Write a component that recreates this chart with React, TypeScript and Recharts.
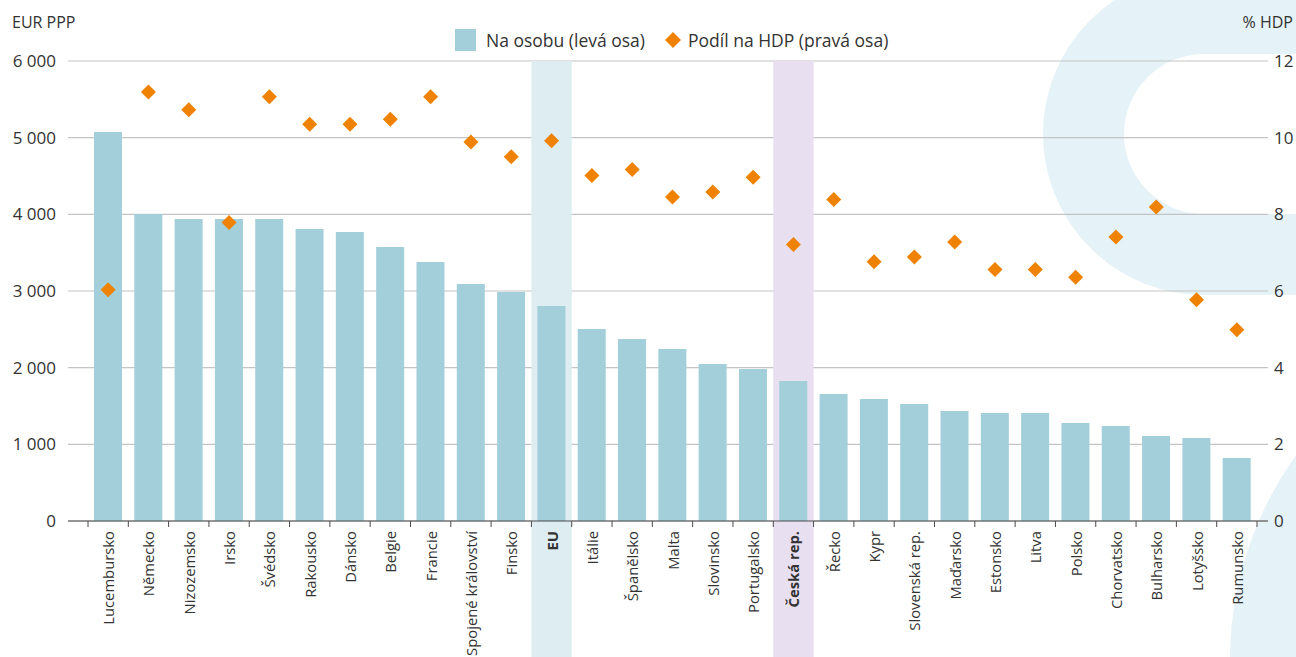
import React from 'react';
import {
  ComposedChart,
  Bar,
  Scatter,
  XAxis,
  YAxis,
  CartesianGrid,
  ReferenceArea,
  Legend,
} from 'recharts';

const categories = [
  'Lucembursko', 'Německo', 'Nizozemsko', 'Irsko', 'Švédsko', 'Rakousko', 'Dánsko', 'Belgie',
  'Francie', 'Spojené království', 'Finsko', 'EU', 'Itálie', 'Španělsko', 'Malta', 'Slovinsko',
  'Portugalsko', 'Česká rep.', 'Řecko', 'Kypr', 'Slovenská rep.', 'Maďarsko', 'Estonsko', 'Litva',
  'Polsko', 'Chorvatsko', 'Bulharsko', 'Lotyšsko', 'Rumunsko',
];

const perCapita = [
  5074, 4004, 3939, 3939, 3939, 3809, 3770, 3574, 3378, 3091, 2987, 2804, 2504, 2374, 2243, 2048,
  1983, 1826, 1656, 1591, 1526, 1435, 1409, 1409, 1278, 1239, 1109, 1083, 822,
];

const gdpShare = [
  6.03, 11.19, 10.73, 7.79, 11.07, 10.35, 10.35, 10.48, 11.07, 9.89, 9.5, 9.92, 9.01, 9.17, 8.45, 8.58,
  8.97, 7.21, 8.39, 6.76, 6.89, 7.28, 6.56, 6.56, 6.36, 7.41, 8.19, 5.77, 4.99,
];

const leftTicks = [0, 1000, 2000, 3000, 4000, 5000, 6000];
const rightTicks = [0, 2, 4, 6, 8, 10, 12];
const boldCategories = ['EU', 'Česká rep.'];

const seriesNames = ['Na osobu (levá osa)', 'Podíl na HDP (pravá osa)'];
const leftUnit = 'EUR PPP';
const rightUnit = '% HDP';

const data = categories.map((name, i) => ({ name, perCapita: perCapita[i], gdp: gdpShare[i] }));

const FONT = '"Open Sans", sans-serif';
const TEXT = '#333333';
const BAR = '#a3cfda';
const DIAMOND = '#ef8200';
const GRID = '#c4c4c4';
const AXIS = '#4a4a4a';
const EU_BAND = '#deedf2';
const CZ_BAND = '#e8e0f0';
const DECOR = '#e5f2f7';

const fmtThousands = (v: number) => String(v).replace(/\B(?=(\d{3})+(?!\d))/g, ' ');

const XTick = (props: any) => {
  const { x, y, payload, index } = props;
  const half = payload && typeof payload.offset === 'number' && payload.offset > 0 ? payload.offset : 20;
  const bold = boldCategories.includes(payload.value);
  const isLast = index === categories.length - 1;
  return (
    <g>
      <line x1={x - half} x2={x - half} y1={y - 10} y2={y - 4} stroke={AXIS} strokeWidth={1} />
      {isLast && <line x1={x + half} x2={x + half} y1={y - 10} y2={y - 4} stroke={AXIS} strokeWidth={1} />}
      <text
        x={x}
        y={y}
        transform={`rotate(-90 ${x} ${y})`}
        textAnchor="end"
        dominantBaseline="central"
        fontFamily={FONT}
        fontSize={14.8}
        fontWeight={bold ? 700 : 400}
        fill={TEXT}
      >
        {payload.value}
      </text>
    </g>
  );
};

const Diamond = (props: any) => {
  const { cx, cy } = props;
  if (cx == null || cy == null) return null;
  const r = 7.5;
  return <path d={`M${cx} ${cy - r} L${cx + r} ${cy} L${cx} ${cy + r} L${cx - r} ${cy} Z`} fill={DIAMOND} />;
};

const BandShape = (fill: string) => (props: any) => {
  const { x, y, width, height } = props;
  return <rect x={x} y={y} width={width} height={height + 140} fill={fill} />;
};

const LegendContent = (props: any) => {
  const payload = props.payload || [];
  return (
    <div style={{ display: 'flex', alignItems: 'center', fontFamily: FONT, fontSize: 17.5, color: TEXT, whiteSpace: 'nowrap' }}>
      {payload.map((entry: any, i: number) => (
        <div key={i} style={{ display: 'flex', alignItems: 'center', marginRight: 20 }}>
          {entry.type === 'diamond' ? (
            <svg width={16} height={16} style={{ marginRight: 7 }}>
              <path d="M8 0 L16 8 L8 16 L0 8 Z" fill={DIAMOND} />
            </svg>
          ) : (
            <span style={{ display: 'inline-block', width: 21, height: 22, background: BAR, marginRight: 10 }} />
          )}
          <span>{entry.value}</span>
        </div>
      ))}
    </div>
  );
};

export default function App() {
  return (
    <div style={{ position: 'absolute', left: 0, top: 0, width: 1296, height: 657, overflow: 'hidden', background: '#fff', fontFamily: FONT }}>
      <svg width={1296} height={657} style={{ position: 'absolute', left: 0, top: 0 }}>
        <path d="M 1330 13.5 L 1204 13.5 A 120.5 120.5 0 0 0 1204 254.5 L 1330 254.5" fill="none" stroke={DECOR} strokeWidth={81} />
        <circle cx={1580} cy={660} r={350} fill={DECOR} />
      </svg>
      <div style={{ position: 'absolute', left: 0, top: 0 }}>
        <ComposedChart width={1296} height={657} data={data} margin={{ top: 61, right: 0, bottom: 0, left: 0 }}>
          <CartesianGrid yAxisId="left" vertical={false} stroke={GRID} strokeWidth={1.2} />
          <ReferenceArea yAxisId="left" x1="EU" x2="EU" shape={BandShape(EU_BAND)} ifOverflow="visible" />
          <ReferenceArea yAxisId="left" x1="Česká rep." x2="Česká rep." shape={BandShape(CZ_BAND)} ifOverflow="visible" />
          <XAxis
            dataKey="name"
            interval={0}
            height={136}
            padding={{ left: 20, right: 11 }}
            axisLine={{ stroke: AXIS, strokeWidth: 1.2 }}
            tickLine={false}
            tickSize={6}
            tickMargin={4}
            tick={<XTick />}
          />
          <YAxis
            yAxisId="left"
            orientation="left"
            width={68}
            domain={[0, 6000]}
            ticks={leftTicks}
            interval={0}
            axisLine={false}
            tickLine={false}
            tickMargin={6}
            tickFormatter={fmtThousands}
            tick={{ fill: TEXT, fontSize: 17, fontFamily: FONT }}
            label={{
              content: () => (
                <text x={12} y={28} fontFamily={FONT} fontSize={16} fill={TEXT}>{leftUnit}</text>
              ),
            }}
          />
          <YAxis
            yAxisId="right"
            orientation="right"
            width={28}
            domain={[0, 12]}
            ticks={rightTicks}
            interval={0}
            axisLine={false}
            tickLine={false}
            tickMargin={0}
            tick={{ fill: TEXT, fontSize: 17, fontFamily: FONT }}
            label={{
              content: () => (
                <text x={1293} y={28} textAnchor="end" fontFamily={FONT} fontSize={16} fill={TEXT}>{rightUnit}</text>
              ),
            }}
          />
          <Bar yAxisId="left" dataKey="perCapita" name={seriesNames[0]} fill={BAR} barSize={28} isAnimationActive={false} legendType="square" />
          <Scatter yAxisId="right" dataKey="gdp" name={seriesNames[1]} fill={DIAMOND} shape={Diamond} isAnimationActive={false} legendType="diamond" />
          <Legend
            layout="horizontal"
            verticalAlign="middle"
            align="center"
            content={<LegendContent />}
            wrapperStyle={{ top: 28, left: 455, width: 'auto', height: 'auto' }}
          />
        </ComposedChart>
      </div>
    </div>
  );
}
